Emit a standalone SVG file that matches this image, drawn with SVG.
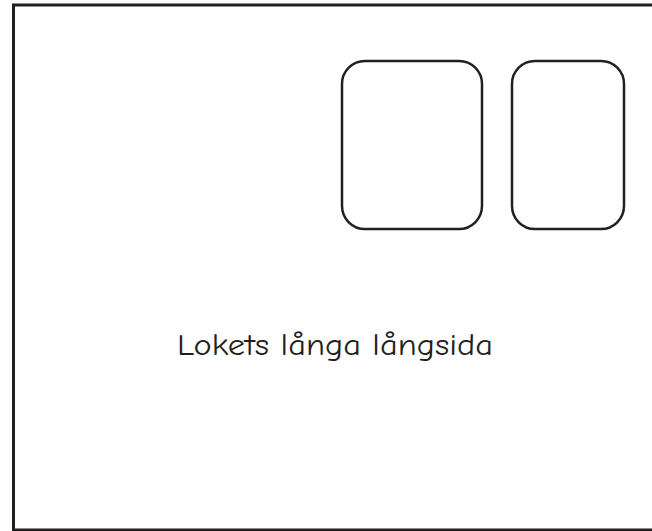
<svg xmlns="http://www.w3.org/2000/svg" width="652" height="531" viewBox="0 0 652 531">
<style>
.frame{fill:#fff;stroke:#231f20;stroke-width:3}
.win{fill:#fff;stroke:#231f20;stroke-width:2.5}
.lbl{font-family:"Comic Neue","Liberation Sans",sans-serif;font-size:30px;fill:#231f20}
</style>
<rect width="652" height="531" fill="#fff"/>
<g id="frame"><rect class="frame" x="13.5" y="5" width="660" height="525"/></g>
<g id="window1"><rect class="win" x="342" y="61" width="140" height="168" rx="23" ry="23"/></g>
<g id="window2"><rect class="win" x="512" y="61" width="112" height="168" rx="23" ry="23"/></g>
<g id="label"><text class="lbl" x="177" y="355" textLength="316" lengthAdjust="spacingAndGlyphs">Lokets långa långsida</text></g>
<g id="connectors"/>
</svg>
